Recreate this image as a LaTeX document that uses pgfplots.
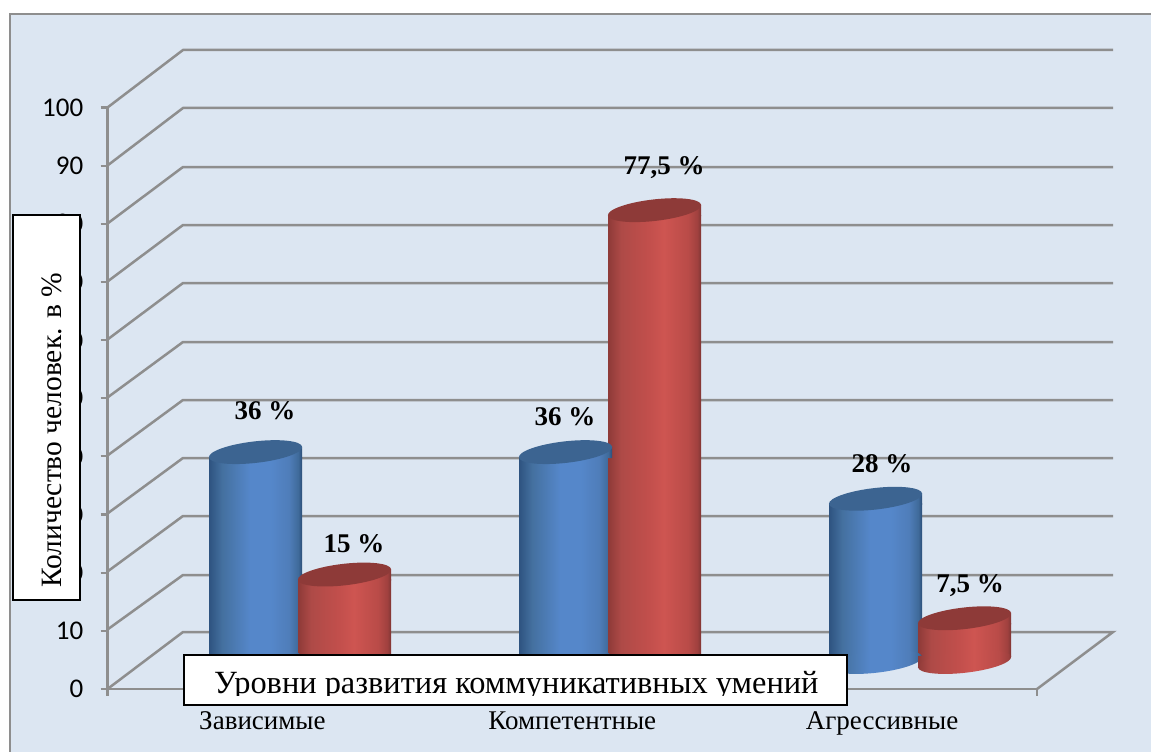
\documentclass[border=0pt]{standalone}
\usepackage{fontspec}
\setmainfont{Liberation Serif}
\newfontfamily\calib{Carlito}
\usepackage{pgfplots}
\pgfplotsset{compat=1.18}
\definecolor{bgc}{HTML}{DCE6F2}
\definecolor{gridc}{HTML}{8E8E8E}
\definecolor{bluetopc}{HTML}{3C6491}
\definecolor{redtopc}{HTML}{8E3A38}
\definecolor{ba}{HTML}{2E5380}
\definecolor{bb}{HTML}{44709F}
\definecolor{bc}{HTML}{5587CA}
\definecolor{bd}{HTML}{4F7DB9}
\definecolor{be}{HTML}{3F6A9A}
\definecolor{bf}{HTML}{2C4E78}
\definecolor{ra}{HTML}{8E3A38}
\definecolor{rb}{HTML}{AE4A47}
\definecolor{rc}{HTML}{C24F4C}
\definecolor{rd}{HTML}{CE5551}
\definecolor{re}{HTML}{B94B48}
\definecolor{rf}{HTML}{A0413F}
\definecolor{rg}{HTML}{7F3533}
\pgfdeclarehorizontalshading{bluecyl}{100bp}{
  color(0bp)=(ba); color(25bp)=(ba); color(32bp)=(bb);
  color(47bp)=(bc); color(58bp)=(bc); color(68bp)=(bd); color(73bp)=(be); color(75bp)=(bf); color(100bp)=(bf)}
\pgfdeclarehorizontalshading{redcyl}{100bp}{
  color(0bp)=(ra); color(25bp)=(ra); color(32bp)=(rb);
  color(47bp)=(rc); color(55bp)=(rd); color(68bp)=(re); color(73bp)=(rf); color(75bp)=(rg); color(100bp)=(rg)}
\newcommand\capell{\pgfpathellipse{\pgfpoint{0pt}{5pt}}{\pgfpoint{46.6pt}{5.3pt}}{\pgfpoint{-1.22pt}{10.7pt}}}
\newcommand\captop[2]{%
  \begin{pgfscope}
  \pgfpathmoveto{\pgfpoint{-46.5pt}{0pt}}\pgfpathlineto{\pgfpoint{46.5pt}{10pt}}%
  \pgfpathlineto{\pgfpoint{46.5pt}{-1pt}}\pgfpathlineto{\pgfpoint{-46.5pt}{-1pt}}\pgfpathclose
  \pgfshadepath{#1}{0}\pgfusepath{discard}
  \end{pgfscope}
  \begin{pgfscope}
  \pgfsetfillcolor{#2}\capell\pgfusepath{fill}
  \end{pgfscope}}
\newcommand\capbase[1]{%
  \begin{pgfscope}
  \pgfpathmoveto{\pgfpoint{-46.5pt}{0pt}}\pgfpathlineto{\pgfpoint{-46.5pt}{11pt}}%
  \pgfpathlineto{\pgfpoint{46.5pt}{11pt}}\pgfpathclose
  \pgfshadepath{#1}{0}\pgfusepath{discard}
  \end{pgfscope}
  \begin{pgfscope}
  \capell\pgfshadepath{#1}{0}\pgfusepath{discard}
  \end{pgfscope}}
\pgfdeclareplotmark{bluetop}{\captop{bluecyl}{bluetopc}}
\pgfdeclareplotmark{redtop}{\captop{redcyl}{redtopc}}
\pgfdeclareplotmark{bluebase}{\capbase{bluecyl}}
\pgfdeclareplotmark{redbase}{\capbase{redcyl}}
\pgfplotsset{full/.style={at={(0pt,0pt)},anchor=south west,scale only axis,width=1151pt,height=752pt,hide axis,clip=false},
  wall/.style={gridc,solid,line width=2.5pt,no markers},
  bluebar/.style={ybar,bar width=93pt,bar shift=-44.5pt,draw=none,shade,shading=bluecyl},
  redbar/.style={ybar,bar width=93pt,bar shift=44.5pt,draw=none,shade,shading=redcyl}}
\begin{document}
\begin{tikzpicture}
\path[use as bounding box] (0pt,0pt) rectangle (1151pt,752pt);
\fill[white] (0pt,0pt) rectangle (1151pt,752pt);
\fill[bgc] (10pt,0pt) rectangle (1151pt,738pt);
\draw[gridc,line width=1.4pt] (10pt,0pt)--(10pt,738pt)--(1151pt,738pt);
% side and back walls, pixel positions of the 3-D frame
\begin{axis}[full,xmin=0,xmax=1151,ymin=0,ymax=752,y dir=reverse]
\addplot[wall] coordinates {(107.5,107.5)(183,50)(1113,50)};
\addplot[wall] coordinates {(107.5,165.5)(183,108)(1113,108)};
\addplot[wall] coordinates {(107.5,223.5)(183,167)(1113,167)};
\addplot[wall] coordinates {(107.5,281.5)(183,225)(1113,225)};
\addplot[wall] coordinates {(107.5,339.5)(183,283)(1113,283)};
\addplot[wall] coordinates {(107.5,397.5)(183,342)(1113,342)};
\addplot[wall] coordinates {(107.5,455.5)(183,400)(1113,400)};
\addplot[wall] coordinates {(107.5,513.5)(183,458)(1113,458)};
\addplot[wall] coordinates {(107.5,571.5)(183,516)(1113,516)};
\addplot[wall] coordinates {(107.5,629.5)(183,575)(1113,575)};
\addplot[wall] coordinates {(107.5,689)(183,632)(1113,632)(1037,689)};
\end{axis}
% front plane: the value axis and the categories
\begin{axis}[at={(107.5pt,63pt)},anchor=south west,scale only axis,width=929.5pt,height=581.5pt,
  xmin=0,xmax=3,ymin=0,ymax=100,
  axis x line*=bottom,axis y line*=left,
  axis line style={-,gridc,line width=2.5pt},
  tick style={gridc,line width=2.2pt},tick align=outside,major tick length=7pt,
  ytick={0,10,...,100},xtick={0,1,2,3},
  xticklabels={Зависимые,Компетентные,Агрессивные},x tick label as interval,
  /pgf/number format/assume math mode=true,
  yticklabel style={font=\calib\fontsize{27}{30}\selectfont,inner sep=0pt,xshift=-17pt,text=black},
  xticklabel style={font=\fontsize{27}{30}\selectfont,inner sep=0pt,text=black,text height=18pt,text depth=6pt,anchor=north,yshift=-15pt}]
\end{axis}
% the cylinders
\begin{axis}[full,xmin=0.03226,xmax=3.74516,ymin=-16.295,ymax=112.693,
  y filter/.expression={y-1.715}]
\addplot[only marks,mark=bluebase,mark options={xshift=-44.5pt}] coordinates {(1,0)(2,0)(3,0)};
\addplot[bluebar] coordinates {(1,36)};
\addplot[bluebar] coordinates {(2,36)};
\addplot[bluebar] coordinates {(3,28)};
\addplot[only marks,mark=bluetop,mark options={xshift=-44.5pt}] coordinates {(1,36)(2,36)(3,28)};
\addplot[only marks,mark=redbase,mark options={xshift=44.5pt}] coordinates {(1,0)(2,0)(3,0)};
\addplot[redbar] coordinates {(1,15)};
\addplot[redbar] coordinates {(2,77.5)};
\addplot[redbar] coordinates {(3,7.5)};
\addplot[only marks,mark=redtop,mark options={xshift=44.5pt}] coordinates {(1,15)(2,77.5)(3,7.5)};
\end{axis}
% labels and text boxes
\begin{axis}[full,xmin=0,xmax=1151,ymin=0,ymax=752,y dir=reverse]
\addplot[draw=none,no markers] coordinates {(0,0)(1151,752)};
\draw[black,fill=white,line width=1.8pt] (13,215) rectangle (80,600);
\draw[black,fill=white,line width=1.8pt] (184,655) rectangle (847,705);
\node[rotate=90,anchor=west,inner sep=0pt,font=\fontsize{29.5}{33}\selectfont] at (52,588) {Количество человек. в \%};
\begin{scope}
\clip (186,657) rectangle (845,695);
\node[anchor=base west,inner sep=0pt,font=\fontsize{32.4}{36}\selectfont] at (214,693) {Уровни развития коммуникативных умений};
\end{scope}
\node[font=\bfseries\fontsize{27}{30}\selectfont,inner sep=0pt] at (265,411) {36 \%};
\node[font=\bfseries\fontsize{27}{30}\selectfont,inner sep=0pt] at (354,544) {15 \%};
\node[font=\bfseries\fontsize{27}{30}\selectfont,inner sep=0pt] at (664,168) {77,5 \%};
\node[font=\bfseries\fontsize{27}{30}\selectfont,inner sep=0pt] at (565,417) {36 \%};
\node[font=\bfseries\fontsize{27}{30}\selectfont,inner sep=0pt] at (882,464) {28 \%};
\node[font=\bfseries\fontsize{27}{30}\selectfont,inner sep=0pt] at (970,586) {7,5 \%};
\end{axis}
\end{tikzpicture}
\end{document}
